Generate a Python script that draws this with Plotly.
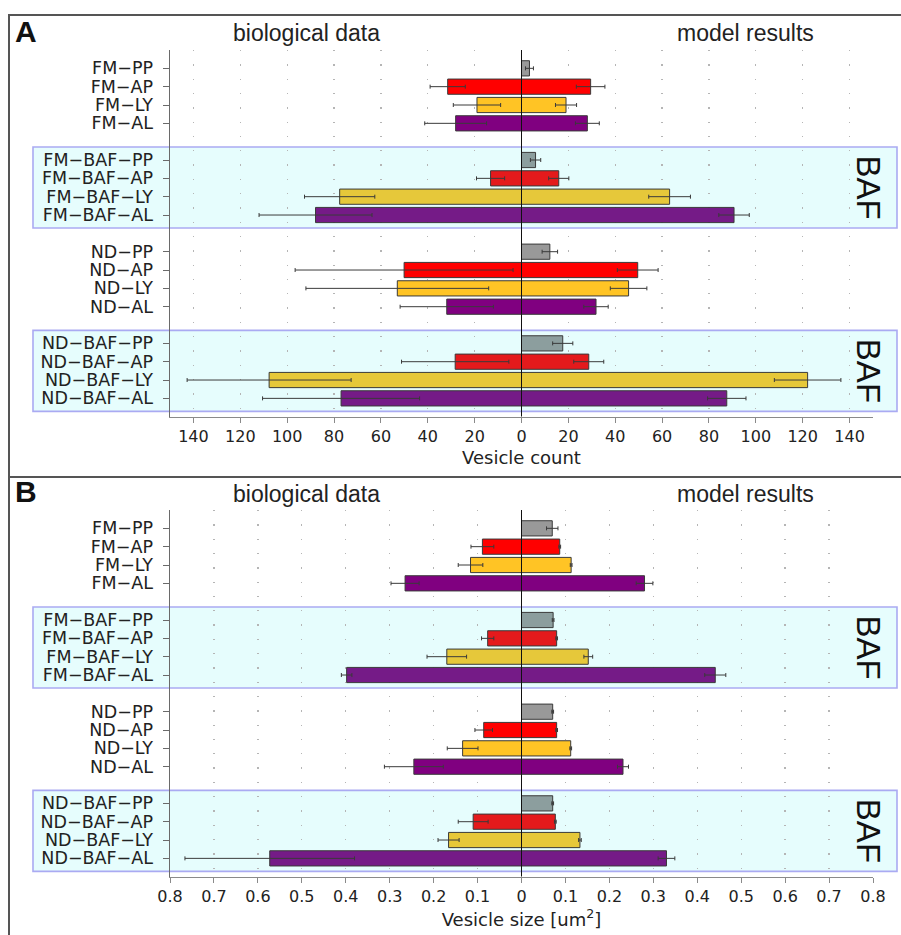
import plotly.graph_objects as go

# ---------------- data ----------------
categories = ["FM−PP", "FM−AP", "FM−LY", "FM−AL",
              "FM−BAF−PP", "FM−BAF−AP", "FM−BAF−LY", "FM−BAF−AL",
              "ND−PP", "ND−AP", "ND−LY", "ND−AL",
              "ND−BAF−PP", "ND−BAF−AP", "ND−BAF−LY", "ND−BAF−AL"]

count_bio = [None, 31.5, 19.0, 28.1, None, 13.2, 77.6, 87.9,
             None, 50.1, 53.0, 31.9, None, 28.3, 107.7, 77.0]
count_bio_sd = [0, 7.5, 10.1, 13.2, 0, 6.0, 15.0, 24.1,
                0, 46.5, 39.0, 19.9, 0, 22.9, 35.0, 33.5]
count_model = [3.4, 29.5, 19.0, 28.1, 6.0, 15.9, 63.2, 90.7,
               12.1, 49.6, 45.7, 31.8, 17.6, 28.7, 122.1, 87.6]
count_model_sd = [1.7, 6.1, 4.5, 5.1, 2.2, 4.3, 8.9, 6.5,
                  3.3, 8.7, 7.8, 5.2, 4.3, 6.4, 14.2, 8.2]

size_bio = [None, 0.089, 0.116, 0.265, None, 0.077, 0.170, 0.398,
            None, 0.086, 0.134, 0.245, None, 0.110, 0.166, 0.573]
size_bio_sd = [0, 0.026, 0.028, 0.032, 0, 0.014, 0.045, 0.012,
               0, 0.020, 0.035, 0.067, 0, 0.034, 0.024, 0.193]
size_model = [0.070, 0.087, 0.113, 0.280, 0.072, 0.080, 0.152, 0.441,
              0.071, 0.080, 0.112, 0.231, 0.071, 0.077, 0.133, 0.330]
size_model_sd = [0.013, 0.002, 0.002, 0.019, 0.002, 0.002, 0.010, 0.024,
                 0.002, 0.002, 0.002, 0.0125, 0.002, 0.002, 0.003, 0.019]

count_tickvals = [-140, -120, -100, -80, -60, -40, -20, 0, 20, 40, 60, 80, 100, 120, 140]
count_ticktext = ["140", "120", "100", "80", "60", "40", "20", "0", "20", "40", "60", "80", "100", "120", "140"]
size_tickvals = [-0.8, -0.7, -0.6, -0.5, -0.4, -0.3, -0.2, -0.1, 0, 0.1, 0.2, 0.3, 0.4, 0.5, 0.6, 0.7, 0.8]
size_ticktext = ["0.8", "0.7", "0.6", "0.5", "0.4", "0.3", "0.2", "0.1", "0",
                 "0.1", "0.2", "0.3", "0.4", "0.5", "0.6", "0.7", "0.8"]

colors_plain = ["#999999", "#ff0000", "#ffc425", "#800080"]
colors_baf = ["#8c9e9e", "#e41a1c", "#e6c83a", "#751b87"]

# ---------------- layout helpers ----------------
slots = [i + i // 4 for i in range(len(categories))]
bar_colors = [(colors_baf if (i // 4) % 2 == 1 else colors_plain)[i % 4] for i in range(len(categories))]

W, H = 901, 935
XDOM = [170 / W, 873 / W]
YDOM_A = [(H - 416.7) / H, (H - 50) / H]
YDOM_B = [(H - 876.7) / H, (H - 510) / H]
YRANGE = [19, -1]

TICK_FONT = dict(family="DejaVu Sans", size=16, color="#222")
CAT_FONT = dict(family="DejaVu Sans", size=17.5, color="#222")

fig = go.Figure()


def neg(vals):
    return [None if v is None else -v for v in vals]


def add_panel(bio, bio_sd, model, model_sd, xa, ya):
    for xs, sd in ((neg(bio), bio_sd), (model, model_sd)):
        fig.add_trace(go.Bar(
            x=xs, y=slots, orientation="h", width=0.83,
            marker=dict(color=bar_colors, line=dict(color="#3a3a3a", width=1)),
            error_x=dict(type="data", array=sd, symmetric=True,
                         color="#3a3a3a", thickness=1, width=2),
            xaxis=xa, yaxis=ya, hoverinfo="skip"))


add_panel(count_bio, count_bio_sd, count_model, count_model_sd, "x", "y")
add_panel(size_bio, size_bio_sd, size_model, size_model_sd, "x2", "y2")


def xaxis_cfg(rng, tv, tt, title, anchor):
    return dict(domain=XDOM, range=rng, anchor=anchor, tickvals=tv, ticktext=tt,
                tickfont=TICK_FONT, showgrid=True, gridcolor="#b5b5b5", gridwidth=1.3,
                griddash="1.3px,13px", zeroline=False, showline=True,
                linecolor="#8a8a8a", linewidth=1.5, ticks="outside", ticklen=5,
                tickcolor="#8a8a8a", automargin=False,
                title=dict(text=title, font=dict(family="DejaVu Sans", size=18, color="#222"),
                           standoff=6),
                fixedrange=True)


def yaxis_cfg(dom, anchor):
    return dict(domain=dom, range=YRANGE, anchor=anchor, tickvals=slots, ticktext=categories,
                tickfont=CAT_FONT, showgrid=False, zeroline=False, showline=True,
                linecolor="#6a6a6a", linewidth=1.5, ticks="outside", ticklen=6,
                tickcolor="#6a6a6a", ticklabelstandoff=6, automargin=False, fixedrange=True)


def py(dom, s):
    return dom[0] + (YRANGE[0] - s) / (YRANGE[0] - YRANGE[1]) * (dom[1] - dom[0])


shapes = []
annotations = []
for dom, panel_top, label, head_y in ((YDOM_A, 15, "A", 33), (YDOM_B, 477, "B", 494)):
    # BAF boxes
    for g in (1, 3):
        top_s = slots[g * 4] - 0.71
        bot_s = slots[g * 4 + 3] + 0.71
        shapes.append(dict(type="rect", xref="paper", yref="paper", layer="below",
                           x0=33 / W, x1=897 / W, y0=py(dom, bot_s), y1=py(dom, top_s),
                           fillcolor="#e6fdfd", line=dict(color="#aaaaf2", width=1.6)))
        annotations.append(dict(text="BAF", xref="paper", yref="paper", x=868 / W,
                                y=(py(dom, bot_s) + py(dom, top_s)) / 2, showarrow=False,
                                textangle=90, xanchor="center", yanchor="middle",
                                font=dict(family="Liberation Sans", size=33, color="#111")))
    annotations.append(dict(text="<b>" + label + "</b>", xref="paper", yref="paper",
                            x=13 / W, y=(H - (head_y - 2)) / H, xanchor="left", yanchor="middle",
                            showarrow=False,
                            font=dict(family="Liberation Sans", size=30, color="#111")))
    annotations.append(dict(text="biological data", xref="paper", yref="paper",
                            x=306.7 / W, y=(H - head_y) / H, xanchor="center", yanchor="middle",
                            showarrow=False,
                            font=dict(family="Liberation Sans", size=23, color="#222")))
    annotations.append(dict(text="model results", xref="paper", yref="paper",
                            x=745 / W, y=(H - head_y) / H, xanchor="center", yanchor="middle",
                            showarrow=False,
                            font=dict(family="Liberation Sans", size=23, color="#222")))

# zero lines above bars
for xr, yr in (("x", "y"), ("x2", "y2")):
    shapes.append(dict(type="line", xref=xr, yref=yr, x0=0, x1=0, y0=YRANGE[0], y1=YRANGE[1],
                       layer="above", line=dict(color="#111", width=1)))

# panel frames
shapes.append(dict(type="rect", xref="paper", yref="paper", layer="below",
                   x0=9 / W, x1=1.02, y0=(H - 477) / H, y1=(H - 15) / H,
                   line=dict(color="#555", width=2), fillcolor="rgba(0,0,0,0)"))
shapes.append(dict(type="rect", xref="paper", yref="paper", layer="below",
                   x0=9 / W, x1=1.02, y0=-0.02, y1=(H - 477) / H,
                   line=dict(color="#555", width=2), fillcolor="rgba(0,0,0,0)"))

fig.update_layout(
    width=W, height=H, autosize=False,
    margin=dict(l=0, r=0, t=0, b=0, pad=0, autoexpand=False),
    paper_bgcolor="white", plot_bgcolor="rgba(0,0,0,0)",
    barmode="overlay", showlegend=False,
    xaxis=xaxis_cfg([-150, 150], count_tickvals, count_ticktext, "Vesicle count", "y"),
    yaxis=yaxis_cfg(YDOM_A, "x"),
    xaxis2=xaxis_cfg([-0.8, 0.8], size_tickvals, size_ticktext,
                     "Vesicle size [um<sup>2</sup>]", "y2"),
    yaxis2=yaxis_cfg(YDOM_B, "x2"),
    shapes=shapes, annotations=annotations,
)

fig.write_html("out.html",
               config={"displayModeBar": False, "staticPlot": True},
               post_script="document.body.style.margin='0px';"
                           "document.body.style.overflow='hidden';"
                           "document.documentElement.style.overflow='hidden';")
